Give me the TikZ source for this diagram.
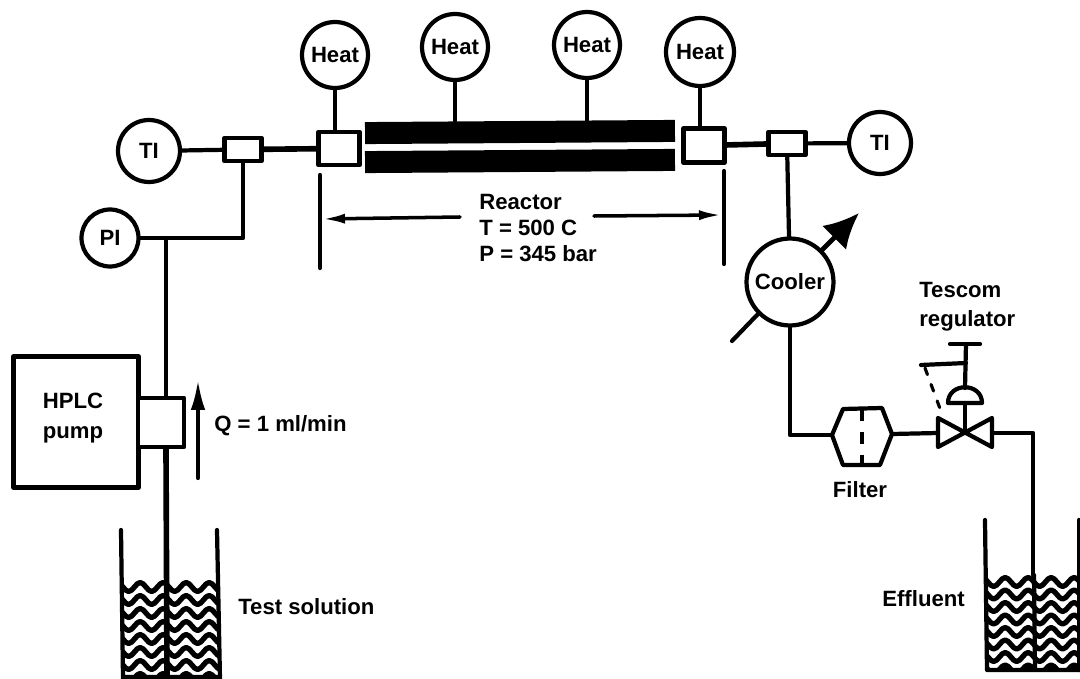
\documentclass[tikz,border=0pt]{standalone}
\usepackage{fontspec}
\setmainfont{Liberation Sans}
\usetikzlibrary{arrows.meta,decorations.pathmorphing}

\tikzset{
    pipe/.style={line width=2.4pt},
    thickpipe/.style={line width=3.2pt},
    gauge/.style={circle,draw,line width=2.4pt,inner sep=0pt,fill=white},
    fitting/.style={rectangle,draw,line width=2.7pt,inner sep=0pt,fill=white},
    jacket/.style={rectangle,fill=black,inner sep=0pt,minimum width=6.2cm,minimum height=0.44cm,rotate=0.4},
    wave/.style={line width=3.0pt,decorate,decoration={snake,segment length=0.46cm,amplitude=0.09cm}},
    label/.style={font=\bfseries\fontsize{12.6}{15}\selectfont,inner sep=0pt,align=left}
}

\begin{document}
\begin{tikzpicture}[x=0.02cm,y=-0.02cm,line cap=round,line join=round]
        \useasboundingbox (0,0) rectangle (1080,679);

        % Linea de entrada
        \node[gauge,label,minimum size=1.24cm] (tiin) at (149,151) {TI};
        \node[fitting,minimum width=0.74cm,minimum height=0.46cm] (teein) at (243,149.5) {};
        \node[fitting,minimum width=0.82cm,minimum height=0.66cm] (blockin) at (339,148.5) {};
        \node[gauge,label,minimum size=1.14cm] (pi) at (110,238) {PI};
        \draw[pipe] (tiin) -- (teein);
        \draw[thickpipe] (teein) -- (blockin);
        \draw[pipe] (pi.east) -| (teein.south);

        % Reactor con calefactores
        \node[jacket] (jackettop) at (520,132) {};
        \node[jacket] (jacketbot) at (520,161) {};
        \node[gauge,label,minimum size=1.32cm] (heata) at (335,55) {Heat};
        \node[gauge,label,minimum size=1.32cm] (heatb) at (455,47) {Heat};
        \node[gauge,label,minimum size=1.32cm] (heatc) at (587,45) {Heat};
        \node[gauge,label,minimum size=1.36cm] (heatd) at (700,52) {Heat};
        \node[fitting,minimum width=0.82cm,minimum height=0.68cm] (blockout) at (704,145.5) {};
        \draw[pipe] (heata) -- (heata |- blockin.north);
        \draw[pipe] (heatb) -- (heatb |- jackettop.north);
        \draw[pipe] (heatc) -- (heatc |- jackettop.north);
        \draw[pipe] (heatd) -- (heatd |- blockout.north);

        % Cota del reactor
        \node[label,anchor=west] (reactor) at (479,228) {Reactor\\T = 500 C\\P = 345 bar};
        \coordinate (dimleft) at (322,219);
        \coordinate (dimright) at (722,215);
        \coordinate (dimlstart) at (460,217);
        \coordinate (dimrstart) at (594,216);
        \draw[pipe] (320,175) -- (320,268);
        \draw[pipe] (724,171) -- (724,264);
        \draw[-{Latex[length=0.46cm,width=0.2cm]},line width=2.0pt] (dimlstart) -- (dimleft);
        \draw[-{Latex[length=0.46cm,width=0.2cm]},line width=2.0pt] (dimrstart) -- (dimright);

        % Linea de salida
        \node[fitting,minimum width=0.74cm,minimum height=0.46cm] (teeout) at (787,143.5) {};
        \node[gauge,label,minimum size=1.24cm] (tiout) at (880,143) {TI};
        \node[gauge,label,minimum size=1.74cm] (cooler) at (790,282) {Cooler};
        \draw[thickpipe] (blockout) -- (teeout);
        \draw[pipe] (teeout) -- (tiout);
        \draw[pipe] (teeout) -- (cooler);

        % Flechas del enfriador
        \coordinate (coolertip) at (859,213);
        \coordinate (coolertail) at (732,341);
        \draw[-{Latex[length=0.7cm,width=0.68cm]},line width=2.7pt] (cooler.45) -- (coolertip);
        \draw[pipe] (cooler.225) -- (coolertail);

        % Filtro
        \coordinate (filterl) at (832,435);
        \coordinate (filterr) at (892,434);
        \draw[pipe] (filterl) -- (843,409) -- (882,408) -- (filterr) -- (880,465) -- (843,465) -- cycle;
        \draw[line width=2.6pt,dash pattern=on 7pt off 6pt,line cap=butt] (862,409) -- (862,465);
        \draw[pipe] (cooler.south) |- (filterl);
        \node[label] (filterlabel) at (860,490) {Filter};

        % Regulador
        \coordinate (valve) at (965,433);
        \coordinate (valvel) at (938,433);
        \coordinate (valver) at (992,433);
        \draw[pipe] (938,418) -- (992,447) -- (992,418) -- (938,447) -- cycle;
        \draw[pipe] (valve) -- (965,403);
        \draw[pipe] (948,403) -- (982,403) .. controls (982,382) and (948,382) .. cycle;
        \draw[pipe] (965,388) -- (966,344);
        \draw[pipe] (950,344) -- (980,344);
        \draw[pipe] (921,365) -- (966,363);
        \draw[line width=1.8pt,dash pattern=on 4pt off 6pt] (925,368) -- (942,414);
        \draw[pipe] (filterr) -- (valvel);
        \node[label,anchor=west] (regulator) at (919,307) {Tescom\\[1.4pt]regulator};

        % Bomba
        \node[fitting,minimum width=2.5cm,minimum height=2.62cm] (pump) at (76,422) {};
        \node[fitting,minimum width=0.92cm,minimum height=0.98cm] (neck) at (161,422.5) {};
        \node[label,align=center] (pumplabel) at (73,418) {HPLC\\[2pt]pump};
        \coordinate (junction) at (166,238);
        \coordinate (inletend) at (167,679);
        \draw[pipe] (junction) -- (junction |- neck.north);
        \draw[thickpipe] (junction |- neck.south) -- (inletend);

        % Caudal
        \coordinate (flowtail) at (198,478);
        \coordinate (flowtip) at (198,379);
        \draw[-{Latex[length=0.62cm,width=0.29cm]},pipe] (flowtail) -- (flowtip);
        \node[label,anchor=west] (flowlabel) at (214,426) {Q = 1 ml/min};

        % Recipientes
        \begin{scope}
            \clip (123,579) rectangle (219,679);
            \foreach \row in {0,...,7} {
                \draw[wave] (110,587+13*\row) -- (235,587+13*\row);
            }
        \end{scope}
        \begin{scope}
            \clip (988,575) rectangle (1080,670);
            \foreach \row in {0,...,7} {
                \draw[wave] (975,582+12.5*\row) -- (1095,582+12.5*\row);
            }
        \end{scope}
        \draw[pipe] (121,530) -- (123,679) (217,530) -- (220,679) (123,677) -- (220,677);
        \draw[pipe] (985,520) -- (987,670) -- (1080,670);
        \draw[pipe] (1079,520) -- (1079,670);
        \draw[pipe] (1034,575) -- (1035,670);
        \draw[pipe] (valver) -| (1033,575);
        \node[label,anchor=west] (testlabel) at (238,607) {Test solution};
        \node[label,anchor=west] (effluent) at (882,599) {Effluent};
    \end{tikzpicture}
\end{document}
